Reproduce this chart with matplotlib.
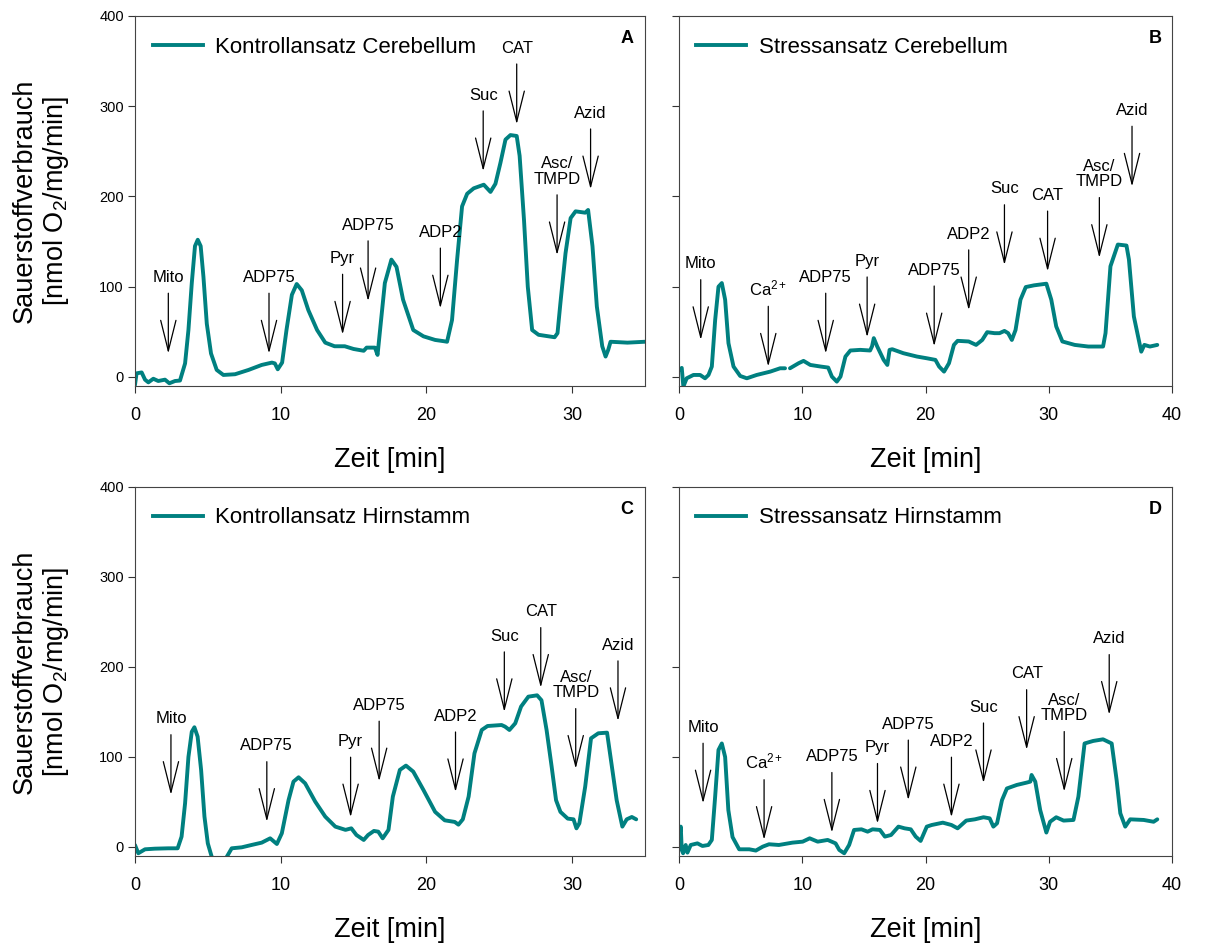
import matplotlib
matplotlib.use("Agg")
import matplotlib.pyplot as plt
from matplotlib.lines import Line2D

plt.rcParams["font.family"] = ["Liberation Sans", "DejaVu Sans"]
plt.rcParams["mathtext.fontset"] = "custom"
plt.rcParams["mathtext.rm"] = "Liberation Sans"
plt.rcParams["mathtext.it"] = "Liberation Sans:italic"
plt.rcParams["mathtext.bf"] = "Liberation Sans:bold"

TEAL = "#008080"

# --- A: Kontrollansatz Cerebellum -------------------------------------------
t_a = [0.0, 0.11, 0.46, 0.69, 0.92, 1.26, 1.6, 2.06, 2.36, 2.75, 3.09, 3.44,
       3.67, 3.9, 4.12, 4.31, 4.51, 4.7, 4.93, 5.22, 5.61, 6.07, 6.87, 7.8,
       8.7, 9.4, 9.6, 9.8, 10.1, 10.4, 10.77, 11.1, 11.45, 11.9, 12.5, 13.06,
       13.7, 14.4, 15.0, 15.7, 15.9, 16.47, 16.65, 16.8, 17.15, 17.6, 17.95,
       18.4, 19.1, 19.8, 20.6, 21.2, 21.42, 21.76, 22.11, 22.45, 22.8, 23.25,
       23.94, 24.4, 24.74, 25.08, 25.43, 25.77, 26.2, 26.4, 26.7, 26.96,
       27.26, 27.7, 28.8, 29.0, 29.2, 29.55, 29.9, 30.24, 30.9, 31.1, 31.4,
       31.7, 32.07, 32.3, 32.48, 32.64, 33.8, 35.0]
o2_a = [-9, 4, 5, -3, -6, -2, -4.5, -3, -7, -4.5, -4, 15,
        52, 104, 145, 152, 145, 111, 59, 26, 7.8, 2.2, 3, 7.8,
        13.3, 15.9, 15, 8.5, 15.9, 52, 91, 103, 96, 74, 52, 38,
        34, 34, 31, 29, 32.5, 32.5, 24.4, 48.5, 104, 130, 122,
        85.6, 52, 45, 41, 39.6, 39, 63, 130, 189, 203, 209,
        213, 205, 214, 237, 263, 268, 267, 245, 174, 100,
        52, 46.7, 44, 48.5, 82, 137, 176, 183.5, 182, 185, 145,
        78, 34, 22.6, 30, 39, 38, 39]
labels_a = ["Mito", "ADP75", "Pyr", "ADP75", "ADP2", "Suc", "CAT",
            "Asc/\nTMPD", "Azid"]
mark_t_a = [2.29, 9.2, 14.25, 16.0, 20.96, 23.9, 26.2, 28.97, 31.27]
mark_tip_a = [26, 26, 47, 84, 76, 228, 280, 135, 208]

# --- B: Stressansatz Cerebellum ---------------------------------------------
t_b = [0.03, 0.22, 0.35, 0.62, 1.17, 1.71, 2.11, 2.39, 2.66, 2.93, 3.2, 3.47,
       3.74, 4.01, 4.42, 4.96, 5.5, 6.3, 7.4, 8.2, 8.6, 8.8, 9.0, 9.7, 10.1,
       10.65, 11.5, 12.1, 12.4, 12.8, 13.1, 13.5, 13.9, 14.7, 15.5, 15.66,
       15.8, 16.07, 16.6, 16.9, 17.08, 17.3, 18.2, 19.3, 20.1, 20.8, 21.1,
       21.5, 21.9, 22.3, 22.6, 23.5, 24.1, 24.6, 25.0, 25.6, 26.0, 26.4, 26.7,
       27.0, 27.3, 27.7, 28.13, 28.8, 29.8, 30.2, 30.6, 31.1, 32.1, 33.2,
       34.4, 34.6, 35.0, 35.6, 36.3, 36.5, 36.9, 37.5, 37.75, 38.2, 38.8]
o2_b = [7.8, 10, -10.7, -1.5, 2.2, 2.2, -1.5, 2.2, 11.5, 63, 100, 104,
        85.6, 37.4, 11.5, 1.1, -1.5, 2.2, 5.9, 9.6, 9.6, float("nan"), 9.6,
        15.2, 17.8, 13.3, 11.5, 10.4, 0.4, -5.2, 0.4, 22.6, 29.3, 30, 29.3,
        34, 43, 34, 18.9, 13.3, 30, 30.7, 26.3, 22.6, 20.7, 18.9, 11.5,
        5.9, 15.2, 35.5, 40, 39.3, 35.5, 41, 49.6, 48.5, 48.5, 51, 48.5,
        41, 52, 85.6, 99.6, 101.5, 103.3, 85.6, 56, 39.3, 35.5, 33.7,
        33.7, 48.5, 122.6, 146.7, 145.6, 130, 67, 28, 35.5, 33.7, 35.5]
labels_b = ["Mito", "Ca$^{2+}$", "ADP75", "Pyr", "ADP75", "ADP2", "Suc",
            "CAT", "Asc/\nTMPD", "Azid"]
mark_t_b = [1.76, 7.24, 11.9, 15.26, 20.7, 23.5, 26.4, 29.9, 34.1, 36.75]
mark_tip_b = [41, 11.5, 26, 44, 34, 74, 124, 117, 132, 211]

# --- C: Kontrollansatz Hirnstamm --------------------------------------------
t_c = [0.0, 0.23, 0.69, 1.37, 2.29, 2.93, 3.2, 3.44, 3.67, 3.9, 4.08, 4.3,
       4.54, 4.77, 5.0, 5.27, 5.6, 6.0, 6.3, 6.64, 7.33, 8.0, 8.7, 9.28, 9.74,
       10.08, 10.54, 10.88, 11.23, 11.68, 12.37, 13.06, 13.75, 14.45, 14.85,
       15.2, 15.7, 16.0, 16.4, 16.7, 17.0, 17.4, 17.7, 18.18, 18.6, 19.1,
       19.8, 20.6, 21.26, 21.95, 22.2, 22.5, 22.9, 23.3, 23.8, 24.2, 25.16,
       25.4, 25.7, 26.1, 26.5, 27.0, 27.6, 27.9, 28.25, 28.6, 28.9, 29.2,
       29.7, 30.1, 30.3, 30.5, 30.9, 31.3, 31.8, 32.4, 32.7, 33.06, 33.45,
       33.75, 34.1, 34.4]
o2_c = [2.2, -7, -2.6, -1.9, -1.5, -1.5, 11.5, 48.5, 100, 128, 133, 122.6,
        85.6, 33.7, 4, -11, -40, -40, -11, -1.5, -0.4, 2.2, 4.8, 9.6, 3.3,
        15.2, 52, 72.6, 77.4, 70.7, 50.4, 33.7, 22.6, 19, 20.7,
        13.3, 7.8, 13.3, 17.8, 17, 9.6, 19, 56, 85.6, 90.4, 83.7,
        63.3, 39, 29.6, 27.8, 24.8, 30.7, 56, 104, 130, 134.4, 135.5,
        133.7, 130, 137.4, 156, 167, 168.5, 163, 130, 89, 52, 39,
        31.5, 30.7, 20.7, 26.3, 67, 120.7, 126.3, 127, 93, 52, 22.6,
        30.7, 33.3, 30.7]
labels_c = ["Mito", "ADP75", "Pyr", "ADP75", "ADP2", "Suc", "CAT",
            "Asc/\nTMPD", "Azid"]
mark_t_c = [2.47, 9.05, 14.8, 16.76, 22.0, 25.35, 27.85, 30.25, 33.15]
mark_tip_c = [58, 28, 33, 73, 61, 150, 177, 87, 140]

# --- D: Stressansatz Hirnstamm ----------------------------------------------
t_d = [0.0, 0.14, 0.22, 0.33, 0.54, 0.68, 0.95, 1.49, 1.9, 2.38, 2.66, 2.93,
       3.2, 3.47, 3.74, 4.0, 4.34, 4.88, 5.7, 6.23, 6.8, 7.3, 8.1, 9.2, 10.03,
       10.6, 11.25, 12.06, 12.7, 13.0, 13.4, 13.8, 14.2, 14.8, 15.3, 15.7,
       16.3, 16.7, 17.2, 17.8, 18.3, 18.8, 19.2, 19.6, 20.1, 20.5, 21.4,
       22.1, 22.6, 23.3, 24.0, 24.7, 25.2, 25.5, 25.8, 26.2, 26.6, 27.4,
       28.2, 28.5, 28.6, 28.9, 29.3, 29.8, 30.1, 30.6, 31.2, 32.0, 32.4,
       32.9, 33.6, 34.4, 35.1, 35.5, 35.8, 36.2, 36.6, 37.7, 38.5, 38.8]
o2_d = [7.8, 22.6, -3.3, -7, 2.2, -6.3, 2.2, 4, 1.1, 2.2, 7.8, 56,
        107.8, 115, 100, 41, 11, -2.6, -2.6, -4, 0.4, 3, 2.2, 4.8, 5.9,
        9.6, 5.9, 7.8, 4, -3.3, -7, 2.2, 18.9, 19.6, 17, 19.6,
        18.9, 11.5, 13.3, 22.6, 20.7, 19.6, 11.5, 6.7, 22.6, 24.4, 27,
        24.4, 20.7, 29.3, 30.7, 33, 31.8, 22.6, 26.3, 52, 65, 68.9,
        71.5, 72.6, 80, 72.6, 41, 16, 28, 33, 29.3, 30, 56,
        115, 117.8, 119.6, 115, 74.4, 37.4, 22.6, 30.7, 30, 28, 30.7]
labels_d = ["Mito", "Ca$^{2+}$", "ADP75", "Pyr", "ADP75", "ADP2", "Suc",
            "CAT", "Asc/\nTMPD", "Azid"]
mark_t_d = [1.95, 6.9, 12.4, 16.1, 18.6, 22.1, 24.7, 28.2, 31.25, 34.9]
mark_tip_d = [48.5, 8, 16, 26, 52, 33, 71, 108, 61.5, 147]

ARROW_LEN = 76  # label bottom sits this far above the arrow tip


def draw_panel(ax, t, o2, name, letter, labels, mark_t, mark_tip, xmax,
               left_labels):
    ax.plot(t, o2, color=TEAL, lw=2.8, solid_joinstyle="round",
            solid_capstyle="round")
    ax.set_xlim(0, xmax)
    ax.set_ylim(-10, 400)
    ax.set_xticks(range(0, xmax + 1, 10) if xmax % 10 == 0 else range(0, xmax, 10))
    ax.set_yticks([0, 100, 200, 300, 400])
    ax.tick_params(axis="x", direction="out", length=5, width=0.8, pad=10,
                   labelsize=13, color="#333333")
    ax.tick_params(axis="y", direction="out", length=5, width=0.8, pad=3,
                   labelsize=10.5, color="#333333")
    for sp in ax.spines.values():
        sp.set_linewidth(0.8)
        sp.set_color("#444444")
    if left_labels:
        ax.set_ylabel("Sauerstoffverbrauch\n[nmol O$_2$/mg/min]", fontsize=19.5,
                      linespacing=1.15)
        ax.yaxis.set_label_coords(-0.125, 0.5)
    else:
        ax.set_yticklabels([])
    ax.set_xlabel("Zeit [min]", fontsize=19.5)
    ax.xaxis.set_label_coords(0.5, -0.165)

    for lab, x, tip in zip(labels, mark_t, mark_tip):
        ax.annotate(lab, xy=(x, tip), xytext=(x, tip + ARROW_LEN),
                    ha="center", va="bottom", fontsize=12, linespacing=1.05,
                    arrowprops=dict(arrowstyle="->,head_length=2.2,head_width=0.55",
                                    lw=0.9, color="black", shrinkA=4, shrinkB=0,
                                    mutation_scale=10))

    handle = Line2D([], [], color=TEAL, lw=2.8)
    ax.legend([handle], [name], loc="center left", bbox_to_anchor=(0.035, 0.916),
              frameon=False, fontsize=16, handlelength=2.25, handletextpad=0.55,
              borderpad=0, borderaxespad=0)
    ax.text(0.965, 0.94, letter, transform=ax.transAxes, ha="center",
            va="center", fontsize=13, fontweight="bold")


fig = plt.figure(figsize=(12.18, 9.43), dpi=100)
ax_a = fig.add_axes([0.1108, 0.5907, 0.4187, 0.3924])
ax_b = fig.add_axes([0.5575, 0.5907, 0.4048, 0.3924])
ax_c = fig.add_axes([0.1108, 0.0923, 0.4187, 0.3913])
ax_d = fig.add_axes([0.5575, 0.0923, 0.4048, 0.3913])

draw_panel(ax_a, t_a, o2_a, "Kontrollansatz Cerebellum", "A",
           labels_a, mark_t_a, mark_tip_a, 35, True)
draw_panel(ax_b, t_b, o2_b, "Stressansatz Cerebellum", "B",
           labels_b, mark_t_b, mark_tip_b, 40, False)
draw_panel(ax_c, t_c, o2_c, "Kontrollansatz Hirnstamm", "C",
           labels_c, mark_t_c, mark_tip_c, 35, True)
draw_panel(ax_d, t_d, o2_d, "Stressansatz Hirnstamm", "D",
           labels_d, mark_t_d, mark_tip_d, 40, False)

fig.savefig("out.png", dpi=100)
